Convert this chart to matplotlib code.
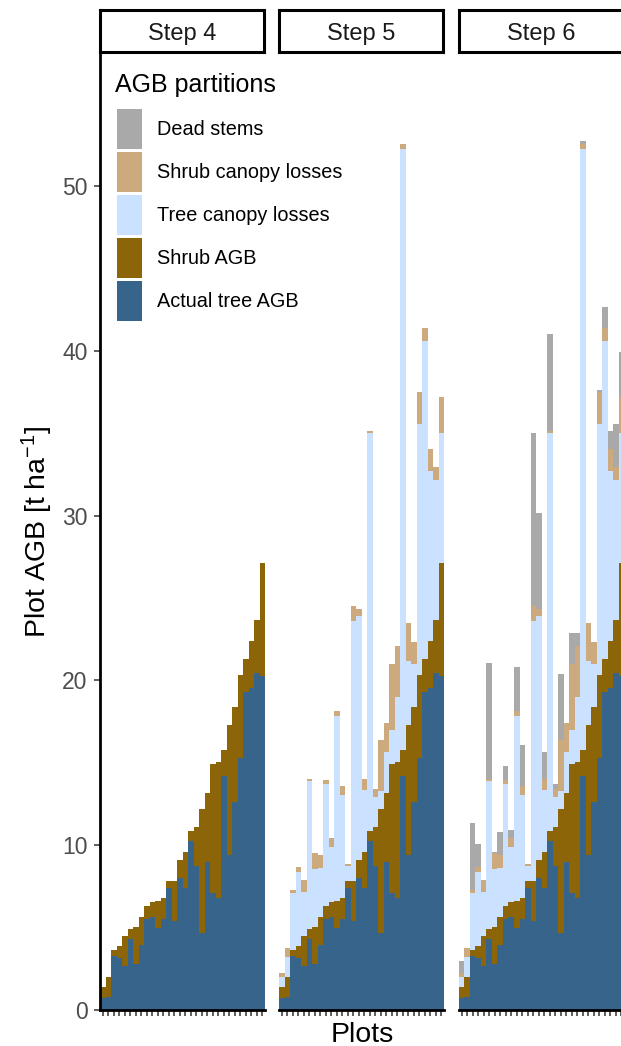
import matplotlib
matplotlib.use("Agg")
import matplotlib.pyplot as plt
from matplotlib.patches import Patch
import numpy as np

plt.rcParams["font.family"] = ["Liberation Sans", "DejaVu Sans"]
plt.rcParams["mathtext.default"] = "regular"

# AGB partitions per plot (t/ha), plots ordered by standing AGB
tree_agb = [0.75, 0.81, 3.28, 3.18, 2.69, 4.31, 2.77, 3.94, 5.52, 5.66,
            4.99, 5.52, 7.42, 5.40, 8.03, 7.42, 10.25, 8.76, 4.65, 9.00,
            7.12, 6.82, 14.20, 9.40, 12.64, 15.31, 19.32, 19.56, 20.43, 20.29]
shrub_agb = [0.66, 1.21, 0.36, 0.70, 1.80, 0.60, 2.29, 1.72, 0.79, 0.91,
             1.64, 1.30, 0.41, 2.43, 1.07, 2.15, 0.61, 2.36, 7.55, 4.15,
             7.81, 8.25, 1.58, 7.89, 5.76, 5.02, 1.98, 2.83, 3.23, 6.81]
tree_loss = [0.61, 1.21, 3.44, 4.51, 2.69, 8.99, 3.48, 2.94, 7.40, 3.30,
             11.23, 6.23, 0.91, 15.79, 14.83, 3.78, 24.17, 1.78, 1.09, 2.49,
             2.06, 3.94, 36.47, 3.89, 2.58, 15.23, 19.31, 10.33, 8.50, 7.93]
shrub_loss = [0.20, 0.51, 0.20, 0.31, 0.71, 0.12, 1.01, 0.80, 0.25, 0.59,
              0.28, 0.56, 0.10, 0.89, 0.38, 0.67, 0.10, 0.51, 3.09, 1.75,
              4.00, 3.10, 0.30, 2.28, 1.33, 1.96, 0.79, 1.32, 0.77, 2.19]
dead_stems = [0.75, 0.04, 4.05, 1.37, 0.00, 7.02, 0.06, 1.42, 0.85, 0.46,
              2.67, 2.47, 0.00, 10.52, 5.87, 1.64, 5.89, 0.30, 4.01, 0.04,
              1.89, 0.77, 0.18, 0.04, 0.00, 0.08, 1.28, 1.09, 2.63, 2.73]

steps = ["Step 4", "Step 5", "Step 6"]
labels = ["Actual tree AGB", "Shrub AGB", "Tree canopy losses",
          "Shrub canopy losses", "Dead stems"]
colors = ["#36648B", "#8B6508", "#CAE1FF", "#CDAA7D", "#A9A9A9"]
layers = [tree_agb, shrub_agb, tree_loss, shrub_loss, dead_stems]
n_layers = [2, 4, 5]  # partitions shown at each step

W, H = 621, 1046
fig = plt.figure(figsize=(W / 100, H / 100), dpi=100)


def box(x0, y0, x1, y1):
    return [x0 / W, 1 - y1 / H, (x1 - x0) / W, (y1 - y0) / H]


panel_x = [(100, 265), (279, 444), (459, 624)]
x = np.arange(len(tree_agb))
axes = []
for i, (x0, x1) in enumerate(panel_x):
    ax = fig.add_axes(box(x0, 53, x1, 1010))
    bottom = np.zeros(len(x))
    for vals, col in zip(layers[:n_layers[i]], colors):
        ax.bar(x, vals, bottom=bottom, width=1.0, color=col,
               linewidth=0, align="center")
        bottom += np.array(vals)
    ax.set_xlim(-0.5, len(x) - 0.5)
    ax.set_ylim(0, 58.07)
    for s in ["top", "right"]:
        ax.spines[s].set_visible(False)
    ax.spines["bottom"].set_linewidth(2.0)
    ax.spines["bottom"].set_color("black")
    ax.set_xticks(x)
    ax.set_xticklabels([])
    ax.tick_params(axis="x", length=4, width=1.1, color="#333333")
    if i == 0:
        ax.spines["left"].set_linewidth(2.0)
        ax.spines["left"].set_color("black")
        ax.set_yticks([0, 10, 20, 30, 40, 50])
        ax.tick_params(axis="y", length=4, width=1.1, color="#333333",
                       labelsize=16.5, labelcolor="#4D4D4D", pad=5)
    else:
        ax.spines["left"].set_visible(False)
        ax.set_yticks([])
    axes.append(ax)

    # facet strip
    sax = fig.add_axes(box(x0, 10, x1 - 1, 52.3))
    sax.set_xticks([])
    sax.set_yticks([])
    for s in sax.spines.values():
        s.set_linewidth(2.2)
        s.set_color("black")
    fig.text((x0 + x1 - 1) / 2 / W, 1 - 40 / H, steps[i], ha="center",
             va="baseline", fontsize=17, color="#1A1A1A")

fig.text(46.7 / W, 1 - 531.5 / H, "Plot AGB [t ha$^{-1}$]", rotation=90,
         rotation_mode="anchor", ha="center", va="baseline", fontsize=20.5)
fig.text(362 / W, 4 / H, "Plots", ha="center", va="baseline", fontsize=20.5)

# legend
fig.text(115 / W, 1 - 91.7 / H, "AGB partitions", ha="left",
         va="baseline", fontsize=18)
handles = [Patch(facecolor=c, edgecolor="none") for c in colors][::-1]
fig.legend(handles, labels[::-1], loc="upper left",
           bbox_to_anchor=(117 / W, 1 - 109 / H), frameon=False,
           borderpad=0, borderaxespad=0, fontsize=14.3,
           handlelength=1.25, handleheight=2.72,
           labelspacing=0.151, handletextpad=0.74)

fig.savefig("out.png", dpi=100)
